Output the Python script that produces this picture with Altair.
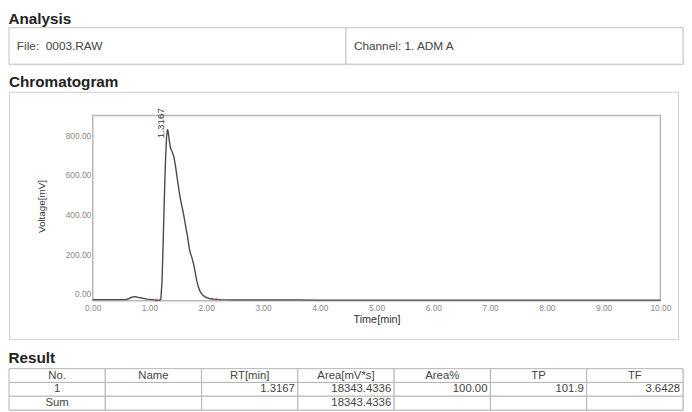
import altair as alt
import pandas as pd

# ---------------- data ----------------
analysis_cols = ["file", "channel"]
analysis_texts = ["File:\u00a0 0003.RAW", "Channel: 1. ADM A"]

time_min = [0.00, 0.20, 0.40, 0.58, 0.64, 0.70, 0.75, 0.80, 0.88, 0.96, 1.05, 1.12,
            1.17, 1.20, 1.22, 1.24, 1.26, 1.28, 1.30, 1.3167, 1.33, 1.35, 1.37, 1.40,
            1.43, 1.46, 1.49, 1.52, 1.55, 1.58, 1.61, 1.64, 1.67, 1.70, 1.72, 1.75,
            1.78, 1.80, 1.83, 1.86, 1.89, 1.93, 1.98, 2.05, 2.14, 2.25, 2.50, 3.00,
            3.60, 4.00, 5.00, 6.00, 7.00, 8.00, 9.00, 10.00]
voltage_mv = [-30, -30, -30, -30, -24, -16, -15, -18, -23, -27, -30, -33,
              -33, -28, 60, 250, 470, 660, 790, 830, 815, 770, 735, 715,
              690, 640, 580, 520, 470, 430, 385, 335, 290, 230, 205, 180,
              145, 115, 70, 35, 12, -5, -16, -24, -28, -30, -31, -31,
              -31, -32, -32, -32, -32, -32, -32, -32]

peak_rt = [1.3167]
peak_mv = [830]
peak_text = ["1.3167"]

marker_t = [1.12, 2.18]
marker_mv = [-32, -30]

x_ticks = [0, 1, 2, 3, 4, 5, 6, 7, 8, 9, 10]
y_ticks = [0, 200, 400, 600, 800]

frame_t = [0.0, 10.0]
frame_mv = [-35.0, 900.0]

result_columns = ["No.", "Name", "RT[min]", "Area[mV*s]", "Area%", "TP", "TF"]
result_rows = ["header", "row1", "sum"]
result_row1 = ["1", "", "1.3167", "18343.4336", "100.00", "101.9", "3.6428"]
result_sum = ["Sum", "", "", "18343.4336", "", "", ""]

# ---------------- style / layout ----------------
FONT = "Liberation Sans"
TXT = "#444444"
GRID = "#c4c4c4"
W_PAGE = 684

B_W, B_H = 679, 251
F_LEFT, F_RIGHT, F_TOP, F_BOTTOM = 85, 661, 24, 212

px_min = (F_RIGHT - F_LEFT) / (frame_t[1] - frame_t[0])
xmin = frame_t[0] - F_LEFT / px_min
xmax = frame_t[1] + (B_W - F_RIGHT) / px_min
px_mv = (F_BOTTOM - F_TOP) / (frame_mv[1] - frame_mv[0])
ymax = frame_mv[1] + F_TOP / px_mv
ymin = frame_mv[0] - (B_H - F_BOTTOM) / px_mv


def heading(text, offset):
    return alt.TitleParams(text=text, anchor="start", font=FONT, fontSize=15.5,
                           fontWeight="bold", color="#222222", offset=offset)


# ---------------- Analysis box ----------------
ana_df = pd.DataFrame({"col": analysis_cols, "text": analysis_texts, "row": ["r"] * 2})
ana_x = alt.X("col:N", sort=analysis_cols, scale=alt.Scale(paddingInner=0, paddingOuter=0), axis=None)
ana_y = alt.Y("row:N", scale=alt.Scale(paddingInner=0, paddingOuter=0), axis=None)
ana_rect = alt.Chart(ana_df).mark_rect(fill="white", stroke=GRID, strokeWidth=1).encode(x=ana_x, y=ana_y)
ana_text = alt.Chart(ana_df).mark_text(align="left", dx=8, font=FONT, fontSize=12, color=TXT).encode(
    x=alt.X("col:N", sort=analysis_cols, bandPosition=0,
            scale=alt.Scale(paddingInner=0, paddingOuter=0), axis=None),
    y=ana_y, text="text:N")
analysis = alt.layer(ana_rect, ana_text).properties(
    width=W_PAGE, height=37, title=heading("Analysis", 0))

# ---------------- Chromatogram ----------------
xs = alt.Scale(domain=[xmin, xmax], nice=False, zero=False)
ys = alt.Scale(domain=[ymin, ymax], nice=False, zero=False)

x_axis = alt.Axis(
    values=x_ticks, format=".2f", offset=-(B_H - F_BOTTOM), domain=False, ticks=False,
    grid=False, labelFont=FONT, labelFontSize=8.5, labelColor="#888888", labelPadding=3,
    labelFlush=False, title="Time[min]", titleFont=FONT, titleFontSize=11,
    titleFontWeight="normal", titleColor="#333333", titleX=(F_LEFT + F_RIGHT) / 2,
    titleY=19, titleBaseline="middle", zindex=2)
y_axis = alt.Axis(
    values=y_ticks, format=".2f", offset=-F_LEFT, domain=False, ticks=False,
    grid=False, labelFont=FONT, labelFontSize=8.5, labelColor="#888888", labelPadding=2,
    title="Voltage[mV]", titleFont=FONT, titleFontSize=10, titleFontWeight="normal",
    titleColor="#333333", titleX=-52, titleY=(F_TOP + F_BOTTOM) / 2 - 2,
    titleBaseline="middle", titleAlign="center", zindex=2)

trace_df = pd.DataFrame({"t": time_min, "v": voltage_mv})
frame_df = pd.DataFrame({"t": [frame_t[0]], "t1": [frame_t[1]], "v": [frame_mv[0]], "v1": [frame_mv[1]]})
peak_df = pd.DataFrame({"t": peak_rt, "v": peak_mv, "label": peak_text})
mark_df = pd.DataFrame({"t": marker_t, "v": marker_mv})

frame = alt.Chart(frame_df).mark_rect(fill="transparent", stroke="#b8b8b8", strokeWidth=1.5).encode(
    x=alt.X("t:Q", scale=xs, axis=x_axis), x2="t1:Q",
    y=alt.Y("v:Q", scale=ys, axis=y_axis), y2="v1:Q")

trace = alt.Chart(trace_df).mark_line(color="#4a4a4a", strokeWidth=1.4).encode(
    x=alt.X("t:Q", scale=xs, axis=x_axis),
    y=alt.Y("v:Q", scale=ys, axis=y_axis),
    order=alt.Order("t:Q"))

markers = alt.Chart(mark_df).mark_point(shape="circle", filled=False, size=14,
                                        color="#e8a0a0", strokeWidth=1).encode(
    x=alt.X("t:Q", scale=xs, axis=x_axis), y=alt.Y("v:Q", scale=ys, axis=y_axis))

peak_lbl = alt.Chart(peak_df).mark_text(angle=270, align="left", baseline="bottom", dx=-9, dy=-2,
                                        font=FONT, fontSize=10, color="#333333").encode(
    x=alt.X("t:Q", scale=xs, axis=x_axis), y=alt.Y("v:Q", scale=ys, axis=y_axis), text="label:N")

chrom = alt.layer(frame, trace, markers, peak_lbl).properties(
    width=B_W, height=B_H, title=heading("Chromatogram", 1),
    view=alt.ViewBackground(stroke="#cccccc", strokeWidth=1))

# ---------------- Result table ----------------
records = []
for ri, (rname, vals) in enumerate(zip(result_rows, [result_columns, result_row1, result_sum])):
    for ci, col in enumerate(result_columns):
        records.append({"row": rname, "col": col, "text": vals[ci],
                        "al": "center" if (ri == 0 or ci == 0) else "right"})
res_df = pd.DataFrame(records)

band = alt.Scale(paddingInner=0, paddingOuter=0)
res_x = alt.X("col:N", sort=result_columns, scale=band, axis=None)
res_y = alt.Y("row:N", sort=result_rows, scale=band, axis=None)
res_rect = alt.Chart(res_df).mark_rect(fill="white", stroke="#b4b4b4", strokeWidth=1).encode(x=res_x, y=res_y)
res_c = alt.Chart(res_df).transform_filter(alt.datum.al == "center").mark_text(
    font=FONT, fontSize=11.5, color=TXT).encode(x=res_x, y=res_y, text="text:N")
res_r = alt.Chart(res_df).transform_filter(alt.datum.al == "right").mark_text(
    align="right", dx=-3, font=FONT, fontSize=11.5, color=TXT).encode(
    x=alt.X("col:N", sort=result_columns, scale=band, axis=None, bandPosition=1),
    y=res_y, text="text:N")
result = alt.layer(res_rect, res_c, res_r).properties(
    width=W_PAGE, height=42, title=heading("Result", 2))

chart = alt.vconcat(analysis, chrom, result, spacing=10).properties(padding=0).configure_view(
    stroke=None).configure(background="white")

chart.save("out.html", embed_options={"renderer": "svg", "actions": False})
